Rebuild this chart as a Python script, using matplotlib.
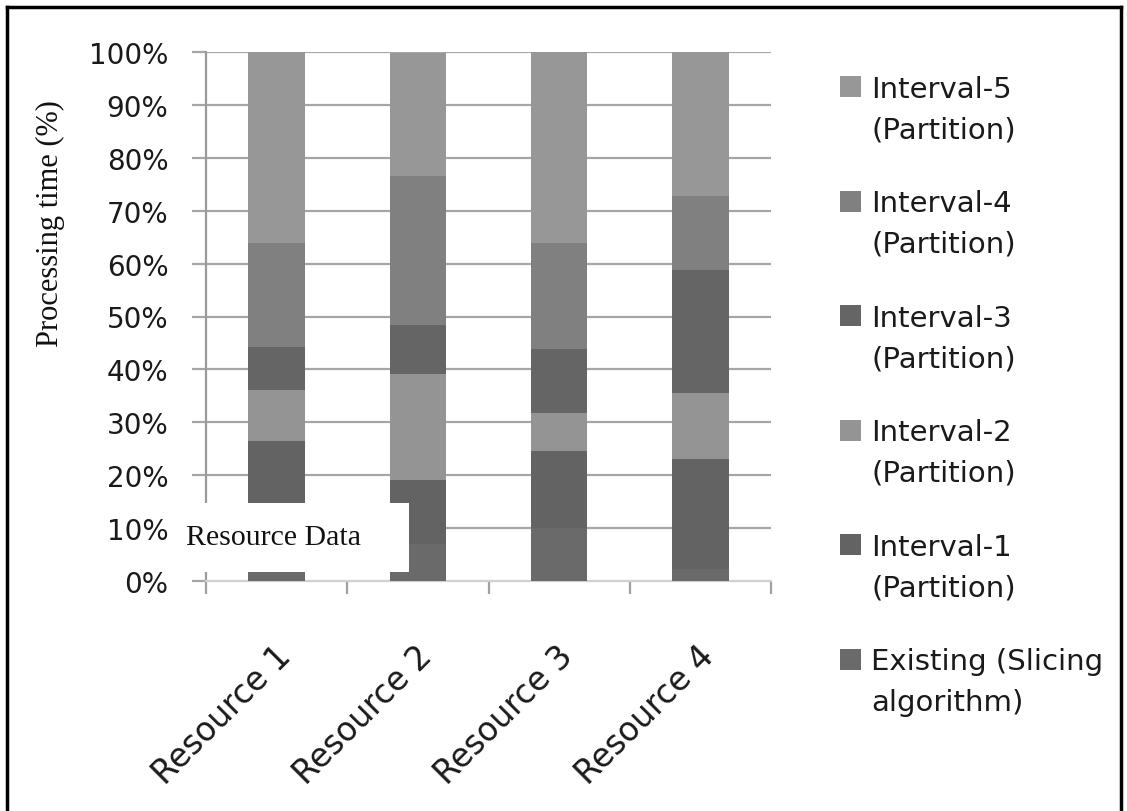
import matplotlib
matplotlib.use("Agg")
import matplotlib.pyplot as plt
import numpy as np
from matplotlib.patches import Rectangle
from matplotlib.lines import Line2D
from matplotlib.transforms import ScaledTranslation

categories = ["Resource 1", "Resource 2", "Resource 3", "Resource 4"]
series_names = ["Existing (Slicing\nalgorithm)", "Interval-1\n(Partition)", "Interval-2\n(Partition)",
                "Interval-3\n(Partition)", "Interval-4\n(Partition)", "Interval-5\n(Partition)"]
existing = [1.7, 7.0, 10.0, 2.3]
interval1 = [24.7, 12.0, 14.5, 20.7]
interval2 = [9.7, 20.1, 7.2, 12.6]
interval3 = [8.2, 9.2, 12.2, 23.2]
interval4 = [19.5, 28.3, 19.9, 13.9]
interval5 = [36.2, 23.3, 36.2, 27.3]
series_values = [existing, interval1, interval2, interval3, interval4, interval5]
colors = ["#6a6a6a", "#636363", "#949494", "#656565", "#808080", "#979797"]
yticks = [0, 10, 20, 30, 40, 50, 60, 70, 80, 90, 100]
ytick_labels = ["%d%%" % v for v in yticks]

W, H = 1127, 812
fig = plt.figure(figsize=(W / 100, H / 100), dpi=100)

def fx(px):
    return px / W

def fy(py):
    return 1 - py / H

ax = fig.add_axes([fx(206), fy(582), fx(771) - fx(206), fy(53) - fy(582)])

x = np.arange(len(categories))
bottom = np.zeros(len(categories))
for vals, col in zip(series_values, colors):
    ax.bar(x, vals, width=0.4, bottom=bottom, color=col, zorder=3, linewidth=0)
    bottom += np.array(vals)

ax.set_xlim(-0.5, len(categories) - 0.5)
ax.set_ylim(0, 100)

grid_col = "#a6a6a6"
for v in yticks[1:]:
    ax.axhline(v, color=grid_col, lw=1.6, zorder=1)

for s in ["top", "right"]:
    ax.spines[s].set_visible(False)
ax.spines["left"].set_color("#9a9a9a")
ax.spines["left"].set_linewidth(1.6)
ax.spines["bottom"].set_color("#d0d0d0")
ax.spines["bottom"].set_linewidth(1.6)

ax.set_yticks(yticks)
ax.set_yticklabels(ytick_labels, fontsize=20, family="DejaVu Sans", color="#1a1a1a")
ax.tick_params(axis="y", length=10, width=1.6, color=grid_col, pad=17)

ax.set_xticks(np.arange(-0.5, len(categories) + 0.5, 1.0))
ax.set_xticklabels([])
ax.tick_params(axis="x", length=9.5, width=1.6, color="#a0a0a0")

# category labels
for i, c in enumerate(categories):
    t = ax.text(i, 0, c, fontsize=23.5, family="DejaVu Sans", color="#1a1a1a",
                rotation=45, ha="right", va="center", rotation_mode="anchor",
                transform=ax.get_xaxis_transform())
    t.set_transform(ax.get_xaxis_transform() + ScaledTranslation(9 / 100, -70 / 100, fig.dpi_scale_trans))

# y label
fig.text(fx(50), fy(224), "Processing time (%)", rotation=90, ha="center", va="center",
         fontsize=22, family="Liberation Serif", color="#111111")

# white box with text
box = Rectangle((fx(175), fy(573)), fx(409) - fx(175), fy(504) - fy(573), transform=fig.transFigure,
                facecolor="white", edgecolor="none", zorder=10)
fig.add_artist(box)
fig.text(fx(186), fy(538), "Resource Data", ha="left", va="center", fontsize=21.5,
         family="Liberation Serif", color="#111111", zorder=11)

# legend (top to bottom: Interval-5 ... Existing)
tops = [77 + i * 114.5 for i in range(6)]
for i, idx in enumerate(range(len(series_names) - 1, -1, -1)):
    top = tops[i]
    sq = Rectangle((fx(840), fy(top + 21)), fx(861) - fx(840), fy(top) - fy(top + 21),
                   transform=fig.transFigure, facecolor=colors[idx], edgecolor="none", zorder=5)
    fig.add_artist(sq)
    fig.text(fx(871), fy(top - 1), series_names[idx], ha="left", va="top", fontsize=21,
             family="DejaVu Sans", color="#1a1a1a", linespacing=1.55)

# figure frame
for (x0, y0, x1, y1) in [(7, 8, 1121, 8), (7, 8, 7, 812), (1121, 8, 1121, 812)]:
    fig.add_artist(Line2D([fx(x0), fx(x1)], [fy(y0), fy(y1)], transform=fig.transFigure,
                          color="black", lw=2.5, zorder=20))

fig.savefig("out.png", dpi=100)
